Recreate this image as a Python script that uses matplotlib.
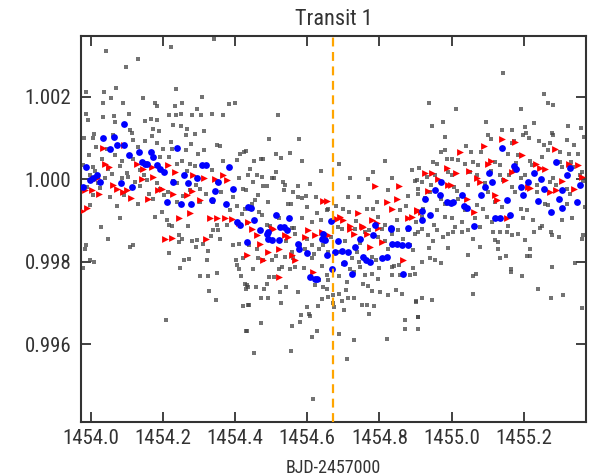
import numpy as np
import matplotlib
matplotlib.use("Agg")
import matplotlib.pyplot as plt
from matplotlib import font_manager

# grey: unbinned photometry
gray_pts = [
    (1454.042,1.00311),(1454.222,1.00321),(1454.129,1.00291),(1454.096,1.00272),(1454.070,1.00222),
    (1454.036,1.00212),(1453.986,1.00212),(1454.236,1.00219),(1454.056,1.00197),(1454.143,1.00197),
    (1454.309,1.00200),(1454.032,1.00185),(1454.089,1.00185),(1454.178,1.00185),(1454.252,1.00185),
    (1454.184,1.00178),(1454.233,1.00178),(1454.293,1.00171),(1454.398,1.00185),(1454.382,1.00182),
    (1453.986,1.00158),(1454.033,1.00152),(1454.064,1.00153),(1454.106,1.00157),(1454.165,1.00147),
    (1454.215,1.00155),(1454.235,1.00155),(1454.250,1.00158),(1454.279,1.00155),(1454.305,1.00155),
    (1454.336,1.00158),(1454.365,1.00155),(1453.991,1.00143),(1454.066,1.00139),(1454.149,1.00141),
    (1454.184,1.00143),(1454.226,1.00131),(1454.249,1.00129),(1454.266,1.00121),(1454.108,1.00120),
    (1454.173,1.00121),(1454.188,1.00116),(1454.313,1.00116),(1454.008,1.00109),(1454.060,1.00107),
    (1454.113,1.00111),(1454.170,1.00105),(1454.264,1.00107),(1454.288,1.00109),(1454.005,1.00099),
    (1453.979,1.00099),(1454.117,1.00095),(1454.149,1.00092),(1454.182,1.00089),(1454.223,1.00091),
    (1454.276,1.00085),(1454.348,1.00084),(1454.358,1.00081),(1454.014,1.00078),(1454.043,1.00074),
    (1454.129,1.00078),(1454.199,1.00074),(1454.224,1.00073),(1454.262,1.00070),(1454.313,1.00070),
    (1454.298,1.00062),(1454.424,1.00066),(1454.413,1.00062),(1453.995,1.00058),(1454.030,1.00050),
    (1454.067,1.00058),(1454.085,1.00044),(1454.117,1.00049),(1454.190,1.00054),(1454.217,1.00054),
    (1454.252,1.00044),(1454.275,1.00038),(1454.239,1.00036),(1454.288,1.00032),(1454.367,1.00044),
    (1454.404,1.00046),(1453.977,1.00034),(1454.006,1.00030),(1454.048,1.00026),(1454.080,1.00032),
    (1454.099,1.00016),(1454.136,1.00022),(1454.205,1.00018),(1454.267,1.00019),(1454.335,1.00022),
    (1453.997,1.00010),(1454.039,1.00003),(1454.085,1.00002),(1454.122,0.99994),(1454.154,0.99998),
    (1454.228,0.99995),(1454.238,0.99990),(1454.349,0.99994),(1454.409,1.00002),(1454.422,0.99976),
    (1453.988,0.99981),(1454.025,0.99979),(1454.136,0.99984),(1454.191,0.99976),(1454.275,0.99973),
    (1454.302,0.99976),(1454.395,0.99957),(1454.006,0.99961),(1454.053,0.99957),(1454.090,0.99963),
    (1454.131,0.99941),(1454.173,0.99952),(1454.201,0.99961),(1454.238,0.99945),(1454.302,0.99945),
    (1454.339,0.99945),(1453.997,0.99937),(1454.071,0.99935),(1454.178,0.99909),(1454.210,0.99901),
    (1454.196,0.99921),(1454.217,0.99890),(1454.081,0.99906),(1454.027,0.99884),(1454.349,0.99889),
    (1454.376,0.99889),(1454.432,0.99893),(1454.341,1.00340),
    (1454.048,0.99856),(1453.986,0.99840),(1453.982,0.99830),(1454.108,0.99836),(1454.115,0.99840),
    (1453.997,0.99804),(1454.008,0.99800),(1453.977,0.99785),(1454.217,0.99822),(1454.224,0.99886),
    (1454.270,0.99886),(1454.245,0.99864),(1454.251,0.99855),(1454.244,0.99847),(1454.279,0.99850),
    (1454.295,0.99852),(1454.291,0.99836),(1454.310,0.99842),(1454.332,0.99863),(1454.339,0.99876),
    (1454.353,0.99876),(1454.358,0.99856),(1454.324,0.99826),(1454.259,0.99804),(1454.273,0.99806),
    (1454.247,0.99784),(1454.321,0.99804),(1454.302,0.99765),(1454.324,0.99765),(1454.350,0.99772),
    (1454.328,0.99730),(1454.346,0.99708),(1454.207,0.99659),(1454.402,0.99804),(1454.406,0.99792),
    (1454.410,0.99783),(1454.417,0.99765),(1454.426,0.99747),(1454.430,0.99735),(1454.422,0.99693),
    (1454.436,0.99696),(1454.430,0.99632),(1454.409,0.99842),(1454.395,0.99840),(1454.422,0.99808),
    (1454.519,1.00155),(1454.494,1.00098),(1454.578,1.00098),(1454.430,1.00068),(1454.512,1.00061),
    (1454.526,1.00052),(1454.552,1.00064),(1454.453,1.00044),(1454.472,1.00049),(1454.478,1.00049),
    (1454.586,1.00045),(1454.689,1.00038),(1454.816,1.00045),(1454.890,1.00022),(1454.911,1.00028),
    (1454.441,1.00026),(1454.637,1.00019),(1454.783,1.00018),(1454.512,1.00018),(1454.435,1.00011),
    (1454.460,1.00011),(1454.475,1.00006),(1454.501,1.00003),(1454.508,1.00003),(1454.448,0.99994),
    (1454.533,0.99994),(1454.538,0.99986),(1454.718,1.00003),(1454.769,1.00000),(1454.834,1.00003),
    (1454.899,0.99995),(1454.607,0.99988),(1454.478,0.99984),(1454.487,0.99984),(1454.573,0.99984),
    (1454.430,0.99973),(1454.535,0.99973),(1454.561,0.99968),(1454.825,0.99973),(1454.880,0.99960),
    (1454.575,0.99957),(1454.586,0.99955),(1454.596,0.99959),(1454.624,0.99958),(1454.714,0.99956),
    (1454.743,0.99956),(1454.464,0.99961),(1454.455,0.99949),(1454.492,0.99945),(1454.547,0.99941),
    (1454.555,0.99941),(1454.598,0.99933),(1454.658,0.99929),(1454.792,0.99945),(1454.875,0.99935),
    (1454.427,0.99929),(1454.436,0.99931),(1454.446,0.99941),(1454.466,0.99921),(1454.473,0.99913),
    (1454.638,0.99901),(1454.654,0.99925),(1454.700,0.99929),(1454.716,0.99921),(1454.765,0.99927),
    (1454.783,0.99929),(1454.797,0.99909),(1454.848,0.99901),(1454.612,0.99897),(1454.489,0.99889),
    (1454.497,0.99887),(1454.564,0.99882),(1454.815,0.99889),(1454.686,0.99884),
    (1454.450,0.99783),(1454.436,0.99739),(1454.432,0.99743),(1454.457,0.99739),(1454.438,0.99696),
    (1454.471,0.99712),(1454.490,0.99712),(1454.471,0.99652),(1454.432,0.99632),(1454.453,0.99580),
    (1454.524,0.99727),(1454.527,0.99700),(1454.541,0.99739),(1454.575,0.99727),(1454.555,0.99583),
    (1454.557,0.99644),(1454.582,0.99670),(1454.580,0.99654),(1454.599,0.99690),(1454.605,0.99674),
    (1454.606,0.99669),(1454.626,0.99632),(1454.612,0.99618),(1454.615,0.99467),(1454.629,0.99693),
    (1454.640,0.99709),(1454.658,0.99715),(1454.621,0.99743),(1454.632,0.99755),(1454.644,0.99739),
    (1454.654,0.99733),(1454.670,0.99699),(1454.675,0.99691),(1454.672,0.99719),(1454.688,0.99625),
    (1454.695,0.99704),(1454.703,0.99682),(1454.689,0.99723),(1454.707,0.99731),(1454.714,0.99712),
    (1454.728,0.99712),(1454.728,0.99610),(1454.711,0.99565),(1454.689,0.99766),(1454.709,0.99751),
    (1454.751,0.99696),(1454.765,0.99696),(1454.772,0.99674),(1454.786,0.99693),(1454.755,0.99747),
    (1454.767,0.99741),(1454.778,0.99730),(1454.802,0.99727),(1454.825,0.99719),(1454.845,0.99731),
    (1454.862,0.99723),(1454.820,0.99614),(1454.871,0.99658),(1454.871,0.99636),(1454.900,0.99704),
    (1454.906,0.99666),(1454.797,0.99759),(1454.834,0.99767),(1454.857,0.99769),(1454.760,0.99769),
    (1454.718,0.99783),(1454.728,0.99775),(1454.746,0.99788),(1454.799,0.99785),(1454.834,0.99788),
    (1454.885,0.99769),(1454.894,0.99785),(1454.658,0.99755),(1454.654,0.99767),(1454.480,0.99735),
    (1454.487,0.99745),(1454.494,0.99763),(1454.508,0.99763),(1454.522,0.99783),(1454.529,0.99788),
    (1454.552,0.99783),(1454.566,0.99788),(1454.464,0.99808),(1454.478,0.99804),(1454.503,0.99804),
    (1454.512,0.99814),(1454.538,0.99812),(1454.561,0.99808),(1454.612,0.99808),(1454.619,0.99820),
    (1454.632,0.99832),(1454.644,0.99840),(1454.658,0.99824),(1454.686,0.99824),(1454.723,0.99808),
    (1454.737,0.99824),(1454.742,0.99800),(1454.778,0.99812),(1454.790,0.99804),(1454.811,0.99808),
    (1454.825,0.99832),(1454.839,0.99790),(1454.855,0.99792),(1454.885,0.99840),(1454.894,0.99828),
    (1454.880,0.99876),(1454.899,0.99868),(1454.808,0.99880),(1454.834,0.99868),(1454.852,0.99876),
    (1454.594,0.99832),(1454.580,0.99840),(1454.557,0.99824),(1454.612,0.99840),(1454.438,0.99840),
    (1454.459,0.99832),(1454.557,0.99882),(1454.566,0.99868),(1454.695,0.99880),(1454.732,0.99880),
    (1454.760,0.99872),(1454.797,0.99860),
    (1455.143,1.00257),(1455.257,1.00207),(1455.268,1.00185),(1455.282,1.00181),(1454.938,1.00185),
    (1455.012,1.00170),(1455.192,1.00170),(1455.095,1.00139),(1454.975,1.00139),(1454.947,1.00129),
    (1455.229,1.00137),(1455.205,1.00127),(1455.324,1.00129),(1455.358,1.00125),(1455.367,1.00103),
    (1455.141,1.00119),(1455.169,1.00120),(1455.100,1.00108),(1455.109,1.00097),(1455.199,1.00107),
    (1455.206,1.00113),(1455.214,1.00100),(1455.278,1.00113),(1455.282,1.00107),(1454.982,1.00103),
    (1455.168,1.00089),(1455.174,1.00092),(1455.319,1.00095),(1455.340,1.00082),(1455.327,1.00062),
    (1455.256,1.00082),(1455.273,1.00089),(1455.268,1.00070),(1455.242,1.00092),(1454.970,1.00066),
    (1454.982,1.00070),(1455.054,1.00065),(1455.082,1.00065),(1454.949,1.00042),(1454.959,1.00038),
    (1454.986,1.00049),(1455.000,1.00050),(1455.019,1.00046),(1455.037,1.00036),(1455.060,1.00042),
    (1455.072,1.00034),(1455.120,1.00042),(1455.134,1.00034),(1455.157,1.00062),(1455.185,1.00058),
    (1455.217,1.00044),(1455.222,1.00034),(1455.301,1.00042),(1455.305,1.00030),(1455.331,1.00042),
    (1455.338,1.00030),(1455.361,1.00018),(1454.905,0.99998),(1454.917,0.99994),(1454.906,0.99977),
    (1454.908,0.99965),(1454.931,1.00006),(1454.954,1.00010),(1454.991,1.00018),(1455.000,1.00010),
    (1455.051,1.00018),(1455.070,1.00010),(1455.134,1.00010),(1455.143,0.99998),(1455.194,1.00002),
    (1455.204,1.00010),(1455.282,1.00002),(1455.273,0.99994),(1455.356,1.00011),(1455.365,0.99995),
    (1454.943,0.99986),(1454.940,0.99969),(1455.008,0.99981),(1455.014,0.99971),(1455.093,0.99990),
    (1455.102,0.99969),(1455.167,0.99981),(1455.176,0.99969),(1455.236,0.99986),(1455.236,0.99969),
    (1455.319,0.99976),(1455.328,0.99965),(1454.972,0.99953),(1454.982,0.99941),(1455.019,0.99953),
    (1455.037,0.99925),(1455.070,0.99937),(1455.088,0.99929),(1455.120,0.99945),(1455.139,0.99933),
    (1455.192,0.99929),(1455.208,0.99925),(1455.259,0.99941),(1455.268,0.99937),(1455.319,0.99941),
    (1455.370,0.99933),(1454.922,0.99929),(1454.917,0.99909),(1454.982,0.99909),(1455.000,0.99905),
    (1455.028,0.99897),(1455.065,0.99905),(1455.097,0.99909),(1455.111,0.99897),(1455.199,0.99905),
    (1455.227,0.99901),(1455.305,0.99901),(1455.333,0.99905),(1454.901,0.99897),(1454.952,0.99890),
    (1455.010,0.99885),(1455.079,0.99885),(1455.157,0.99887),(1455.250,0.99887),
    (1454.908,0.99872),(1454.917,0.99879),(1454.936,0.99864),(1454.949,0.99850),(1454.961,0.99876),
    (1454.977,0.99860),(1454.991,0.99868),(1455.005,0.99872),(1454.991,0.99834),(1454.937,0.99834),
    (1454.940,0.99810),(1454.954,0.99804),(1454.971,0.99796),(1454.919,0.99800),(1454.898,0.99771),
    (1455.028,0.99872),(1455.046,0.99876),(1455.060,0.99856),(1455.079,0.99836),(1455.045,0.99817),
    (1455.060,0.99766),(1455.067,0.99771),(1455.060,0.99723),(1455.116,0.99872),(1455.120,0.99852),
    (1455.130,0.99848),(1455.134,0.99872),(1455.153,0.99871),(1455.167,0.99866),(1455.128,0.99830),
    (1455.134,0.99810),(1455.151,0.99814),(1455.164,0.99783),(1455.166,0.99774),(1455.185,0.99868),
    (1455.204,0.99852),(1455.217,0.99830),(1455.208,0.99814),(1455.217,0.99814),(1455.196,0.99765),
    (1455.229,0.99872),(1455.245,0.99882),(1455.239,0.99735),(1455.276,0.99871),(1455.278,0.99864),
    (1455.298,0.99860),(1455.279,0.99788),(1455.276,0.99712),(1455.310,0.99719),(1455.342,0.99796),
    (1455.361,0.99856),(1455.365,0.99864),(1455.361,0.99687),(1454.901,0.99703),(1454.919,0.99712),
    (1454.945,0.99708),(1454.908,0.99666),(1454.908,0.99636),
    # extra points filling the dense band
    (1454.012,1.00020),(1454.020,0.99990),(1454.058,1.00012),(1454.102,1.00005),(1454.146,1.00010),
    (1454.160,0.99965),(1454.184,0.99990),(1454.214,0.99968),(1454.256,0.99960),(1454.290,0.99985),
    (1454.320,0.99965),(1454.360,0.99968),(1454.385,0.99925),(1454.406,0.99935),(1454.418,0.99915),
    (1454.520,0.99906),(1454.585,0.99905),(1454.628,0.99918),(1454.680,0.99935),(1454.735,0.99900),
    (1454.770,0.99878),(1454.858,0.99925),(1454.540,0.99850),(1454.600,0.99855),(1454.665,0.99860),
    (1454.705,0.99850),(1454.745,0.99845),(1454.815,0.99850),(1454.865,0.99855),(1454.590,0.99785),
    (1454.640,0.99790),(1454.700,0.99795),(1454.780,0.99770),(1454.925,0.99955),(1454.960,0.99925),
    (1455.045,0.99985),(1455.110,1.00020),(1455.180,1.00040),(1455.250,1.00055),(1455.300,1.00065),
    (1455.350,1.00060),(1455.040,1.00080),(1455.160,1.00010),(1455.290,0.99985),
]

# red: binned points (first set)
red_pts = [
    (1454.090,1.00084),(1454.032,1.00076),(1454.039,1.00036),(1454.051,1.00030),(1454.127,1.00036),
    (1454.145,1.00026),(1454.214,1.00034),(1454.233,1.00018),(1454.168,1.00030),(1454.173,1.00006),
    (1454.141,1.00000),(1454.006,1.00000),(1454.016,1.00002),(1454.284,1.00010),(1454.312,1.00003),
    (1454.344,1.00000),(1454.367,1.00010),(1454.376,0.99998),(1454.062,0.99986),(1454.071,0.99976),
    (1454.088,0.99969),(1454.099,0.99973),(1454.187,0.99973),(1454.196,0.99976),(1454.228,0.99965),
    (1454.265,0.99963),(1454.279,0.99971),(1453.983,0.99973),(1454.002,0.99973),(1454.023,0.99965),
    (1454.110,0.99955),(1454.159,0.99952),(1454.302,0.99949),(1453.988,0.99931),(1453.974,0.99922),
    (1454.245,0.99906),(1454.275,0.99917),(1454.330,0.99906),(1454.349,0.99906),(1454.372,0.99906),
    (1454.390,0.99903),(1454.409,0.99893),(1454.205,0.99856),(1454.225,0.99858),(1454.318,0.99856),
    (1454.643,0.99948),(1454.654,0.99948),(1454.789,0.99984),(1454.855,0.99984),(1454.820,0.99945),
    (1454.848,0.99953),(1454.834,0.99929),(1454.741,0.99917),(1454.691,0.99909),(1454.700,0.99901),
    (1454.778,0.99901),(1454.792,0.99893),(1454.718,0.99887),(1454.751,0.99887),(1454.880,0.99906),
    (1454.890,0.99909),(1454.903,0.99923),(1454.436,0.99897),(1454.501,0.99882),(1454.681,0.99903),
    (1454.446,0.99880),(1454.459,0.99864),(1454.469,0.99844),(1454.478,0.99804),(1454.492,0.99824),
    (1454.520,0.99832),(1454.506,0.99880),(1454.538,0.99864),(1454.547,0.99860),(1454.557,0.99816),
    (1454.566,0.99804),(1454.594,0.99860),(1454.603,0.99876),(1454.621,0.99864),(1454.640,0.99872),
    (1454.617,0.99775),(1454.520,0.99763),(1454.658,0.99864),(1454.718,0.99880),(1454.728,0.99868),
    (1454.755,0.99884),(1454.765,0.99868),(1454.774,0.99836),(1454.797,0.99882),(1454.806,0.99848),
    (1454.866,0.99804),(1454.432,0.99816),
    (1455.141,1.00097),(1455.091,1.00080),(1455.176,1.00090),(1455.196,1.00058),(1455.023,1.00066),
    (1455.287,1.00073),(1455.100,1.00038),(1455.109,1.00044),(1455.326,1.00038),(1455.351,1.00034),
    (1455.233,1.00036),(1455.245,1.00028),(1455.259,1.00026),(1454.986,1.00028),(1455.011,1.00016),
    (1455.048,1.00019),(1455.070,1.00002),(1455.079,0.99994),(1455.167,1.00018),(1455.176,1.00022),
    (1454.926,1.00016),(1454.945,1.00016),(1454.963,1.00000),(1454.991,0.99987),(1454.998,0.99987),
    (1455.148,0.99998),(1455.211,0.99981),(1455.217,0.99979),(1455.273,0.99968),(1455.291,0.99973),
    (1455.305,0.99995),(1455.340,0.99977),(1455.363,1.00006),(1454.934,0.99971),(1455.042,0.99953),
    (1455.120,0.99961),(1455.125,0.99949),(1454.903,0.99925),(1454.915,0.99921),(1455.063,0.99921),
    (1455.155,0.99906),
]

# blue: binned points (second set)
blue_pts = [
    (1454.092,1.00135),(1454.032,1.00100),(1454.064,1.00103),(1454.092,1.00084),(1454.053,1.00074),
    (1454.073,1.00084),(1454.104,1.00058),(1454.134,1.00066),(1454.165,1.00065),(1454.171,1.00054),
    (1454.150,1.00038),(1454.141,1.00042),(1454.154,1.00038),(1454.239,1.00076),(1454.182,1.00034),
    (1454.191,1.00026),(1453.986,1.00030),(1454.307,1.00034),(1454.319,1.00034),(1454.383,1.00030),
    (1454.006,1.00002),(1454.016,1.00010),(1454.025,0.99994),(1453.997,0.99998),(1454.082,0.99990),
    (1454.113,0.99981),(1454.201,1.00018),(1454.226,0.99994),(1454.258,1.00010),(1454.270,0.99990),
    (1454.293,1.00003),(1454.344,0.99971),(1454.353,0.99994),(1454.395,0.99977),(1453.977,0.99981),
    (1454.212,0.99945),(1454.249,0.99939),(1454.276,0.99939),(1454.335,0.99949),(1454.374,0.99941),
    (1454.436,0.99933),(1454.404,0.99897),(1454.413,0.99889),
    (1454.443,0.99931),(1454.453,0.99902),(1454.512,0.99913),(1454.548,0.99905),(1454.469,0.99876),
    (1454.492,0.99872),(1454.524,0.99884),(1454.644,0.99868),(1454.665,0.99900),
    (1454.487,0.99868),(1454.492,0.99856),(1454.501,0.99852),(1454.520,0.99852),(1454.432,0.99848),
    (1454.536,0.99884),(1454.543,0.99876),(1454.573,0.99844),(1454.577,0.99832),(1454.598,0.99822),
    (1454.640,0.99855),(1454.649,0.99852),(1454.654,0.99817),(1454.677,0.99824),(1454.686,0.99850),
    (1454.607,0.99763),(1454.621,0.99759),(1454.626,0.99758),(1454.667,0.99782),(1454.697,0.99826),
    (1454.714,0.99824),(1454.703,0.99796),(1454.732,0.99836),(1454.723,0.99771),(1454.746,0.99856),
    (1454.755,0.99812),(1454.762,0.99804),(1454.774,0.99800),(1454.783,0.99864),(1454.808,0.99808),
    (1454.820,0.99812),(1454.832,0.99879),(1454.834,0.99844),(1454.848,0.99844),(1454.862,0.99840),
    (1454.880,0.99840),(1454.866,0.99771),(1454.880,0.99882),
    (1454.788,0.99889),(1454.832,0.99882),
    (1455.141,1.00076),(1455.289,1.00042),(1455.356,0.99986),(1455.174,1.00032),(1455.180,1.00026),
    (1455.104,1.00016),(1455.111,0.99994),(1455.229,1.00016),(1455.211,0.99994),(1455.248,1.00000),
    (1455.328,1.00028),(1455.319,1.00010),(1454.972,0.99994),(1454.954,0.99973),(1455.093,0.99981),
    (1455.083,0.99961),(1455.192,0.99981),(1455.199,0.99961),(1455.257,0.99977),(1455.305,0.99973),
    (1454.926,0.99951),(1454.968,0.99961),(1454.986,0.99945),(1454.998,0.99943),(1455.005,0.99945),
    (1455.028,0.99961),(1455.035,0.99935),(1455.042,0.99931),(1455.153,0.99949),(1455.239,0.99948),
    (1455.298,0.99952),(1455.347,0.99945),(1455.276,0.99921),(1455.305,0.99931),(1454.917,0.99922),
    (1454.940,0.99913),(1454.919,0.99901),(1455.120,0.99906),(1455.134,0.99905),(1455.162,0.99913),
    (1455.063,0.99887),
]

t_mid = 1454.670
title = "Transit 1"
xlabel = "BJD-2457000"
xticks = [1454.0, 1454.2, 1454.4, 1454.6, 1454.8, 1455.0, 1455.2]
yticks = [0.996, 0.998, 1.000, 1.002]

gray = np.array(gray_pts)
red = np.array(red_pts)
blue = np.array(blue_pts)

# narrow sans if there is one, else plain Liberation Sans a bit smaller
names = {f.name for f in font_manager.fontManager.ttflist}
narrow = [n for n in ['Liberation Sans Narrow', 'Arial Narrow', 'Roboto Condensed',
                      'Open Sans Condensed'] if n in names]
if narrow:
    plt.rcParams['font.family'] = [narrow[0], 'DejaVu Sans']
    fs_tick, fs_title, fs_lab = 15, 16, 13
else:
    plt.rcParams['font.family'] = ['Liberation Sans', 'DejaVu Sans']
    fs_tick, fs_title, fs_lab = 12.5, 14, 11
txt = '#333333'

fig = plt.figure(figsize=(5.95, 4.76), dpi=100)
ax = fig.add_axes([0.1361, 0.1134, 0.8482, 0.8116])

ax.scatter(gray[:, 0], gray[:, 1], s=10, marker='s', color='#444444', alpha=0.75, linewidths=0, zorder=2)
ax.scatter(red[:, 0], red[:, 1], s=24, marker='>', color='#ff0000', linewidths=0, zorder=3)
ax.scatter(blue[:, 0], blue[:, 1], s=24, marker='o', color='#0000ff', linewidths=0, zorder=4)
ax.axvline(t_mid, color='#ffa500', lw=1.6, ls=(0, (4, 2.5)), zorder=5)

ax.set_xlim(1453.972, 1455.372)
ax.set_ylim(0.994116, 1.003479)
ax.set_xticks(xticks)
ax.set_xticklabels([f"{v:.1f}" for v in xticks])
ax.set_yticks(yticks)
ax.set_yticklabels([f"{v:.3f}" for v in yticks])

ax.tick_params(direction='in', top=True, right=True, length=7, width=1.3,
               labelsize=fs_tick, colors='#333333', labelcolor=txt)
ax.tick_params(axis='x', pad=5)
ax.tick_params(axis='y', pad=7)
for sp in ax.spines.values():
    sp.set_linewidth(1.5)
    sp.set_color('#333333')

ax.set_title(title, fontsize=fs_title, color=txt, pad=8)
ax.set_xlabel(xlabel, fontsize=fs_lab, color=txt, labelpad=8)

fig.savefig("out.png", dpi=100)
